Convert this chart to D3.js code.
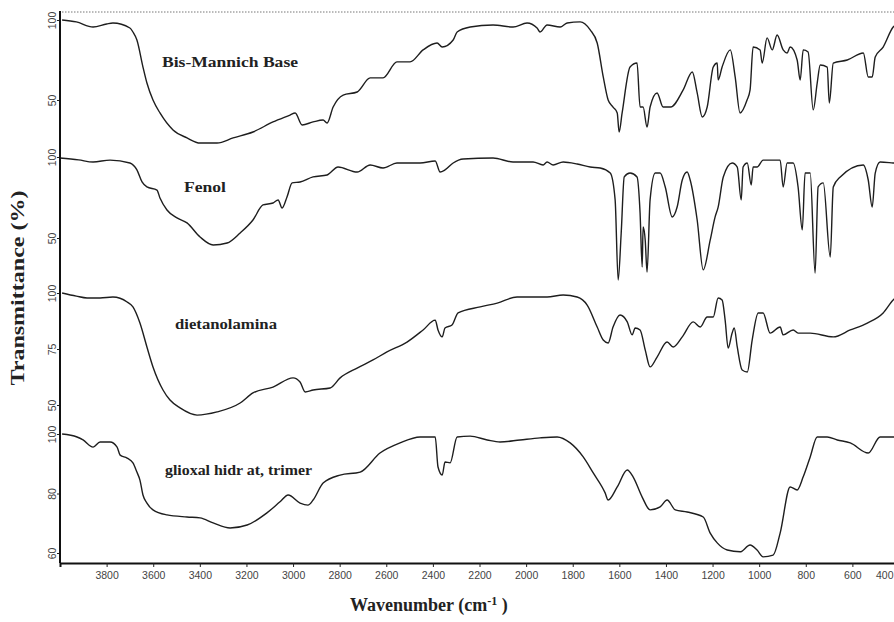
<!DOCTYPE html>
<html>
<head>
<meta charset="utf-8">
<script src="https://cdn.jsdelivr.net/npm/d3@7"></script>
<style>
  html, body { margin: 0; padding: 0; background: #fff; }
  svg { display: block; }
</style>
</head>
<body>
<svg id="chart" width="894" height="622"></svg>
<script>
// ---------- DATA (wavenumber cm-1, transmittance %) ----------
const seriesNames = ["Bis-Mannich Base", "Fenol", "dietanolamina", "glioxal hidr at, trimer"];

const bisMannich = [
  [3991,100],[3930,98.8],[3858,95.6],[3800,97.5],[3773,98.1],[3700,95],[3687,92.5],[3670,87.5],[3644,70.6],[3627,60.6],
  [3601,50],[3571,41.9],[3515,31.3],[3455,26.3],[3399,23.1],[3326,23.1],[3257,26.3],[3172,30],
  [3086,36.3],[3013,40.6],[2991,41.9],[2961,34.4],[2914,36.3],[2871,37.5],[2854,35.6],[2828,45.6],
  [2785,53.1],[2725,55],[2669,63.8],[2614,63.8],[2554,73.8],[2498,73.8],[2442,81.3],[2382,85.6],
  [2360,83.1],[2313,87.5],[2296,92.5],[2240,95.6],[2142,96.9],[2056,95.6],[1996,98.1],[1953,95],
  [1940,92.5],[1910,96.9],[1854,95.6],[1824,98.1],[1768,98.8],[1725,93.8],[1695,85.6],[1669,64.4],
  [1648,50],[1627,45.6],[1609,41.9],[1601,30],[1588,41.9],[1554,70.6],[1524,73.1],[1511,45.6],
  [1498,45.6],[1481,33.1],[1468,45.6],[1438,54.4],[1412,45.6],[1380,45.6],[1326,56.3],[1287,67.5],
  [1266,54.4],[1244,39.4],[1223,45.6],[1197,70.6],[1180,73.1],[1176,62.5],[1159,70.6],[1124,81.3],
  [1103,64.4],[1082,41.9],[1052,50],[1039,56.3],[1026,83.1],[996,81.3],[987,73.1],[966,88.8],
  [944,81.3],[923,90.6],[897,81.3],[880,79.4],[867,83.1],[837,75],[824,62.5],[811,81.3],
  [790,80],[768,43.8],[751,60.6],[738,71.9],[708,70.6],[699,48.1],[682,73.1],[622,75],
  [553,79.4],[532,64.4],[515,64.4],[502,76.9],[468,83.1],[425,95.6],[400,98]
];

const fenol = [
  [4000,99.4],[3920,98.2],[3858,96.9],[3785,98.1],[3700,96.3],[3670,92],[3648,84.6],[3627,81.5],[3584,79.6],
  [3571,74.7],[3541,67.3],[3498,62.4],[3455,59.3],[3399,50.6],[3343,45.7],[3283,46.9],[3227,53.1],
  [3172,61.1],[3129,70.4],[3086,71.6],[3064,73.5],[3047,68.5],[3026,75.3],[3004,84],[2970,84.6],
  [2914,87.7],[2854,88.9],[2807,93.8],[2725,90.7],[2669,95.1],[2614,93.2],[2554,96.3],[2455,96.3],
  [2390,97.5],[2369,90.7],[2348,92],[2313,96.3],[2270,98.8],[2142,99.4],[2056,96.9],[1970,96.9],
  [1927,95.1],[1910,96.9],[1884,95.1],[1841,96.9],[1781,95.7],[1725,93.8],[1682,93.2],[1639,90.1],
  [1618,73.5],[1605,24.1],[1592,53.1],[1579,87.7],[1554,90.1],[1524,87.7],[1511,65.4],[1502,32.1],
  [1498,56.8],[1489,48.8],[1481,29],[1468,73.5],[1446,90.1],[1425,90.1],[1403,81.5],[1373,63],
  [1352,69.1],[1330,85.8],[1309,90.7],[1296,85.8],[1266,61.1],[1240,30.3],[1210,48.8],[1189,63],
  [1176,69.1],[1154,87.7],[1116,96.3],[1094,93.8],[1077,73.5],[1069,93.8],[1051,96.3],[1034,82.7],
  [1026,93.8],[1009,93.8],[983,98.1],[910,98.1],[897,81.5],[880,96.3],[854,96.3],[833,81.5],
  [815,55],[803,90.1],[781,90.1],[760,28.4],[747,81.5],[725,84],[695,38.3],[682,81.5],
  [652,87.7],[553,95.1],[532,85.8],[515,69.1],[502,90.1],[481,96.9],[425,96.3],[400,96]
];

const dietanolamina = [
  [3991,100],[3930,98.6],[3884,97.8],[3828,97.8],[3773,98.2],[3712,96],[3687,93.8],[3657,86.6],[3627,75.9],
  [3601,67],[3558,56.7],[3528,52.2],[3485,48.7],[3412,45.5],[3326,46.9],[3227,50.9],[3172,55.4],
  [3086,58],[3000,62.1],[2970,60.3],[2948,55.8],[2914,56.7],[2841,57.6],[2798,62.1],[2725,66.5],
  [2657,70.1],[2597,73.7],[2511,78.1],[2442,83.5],[2390,87.9],[2378,83.5],[2360,80.4],[2348,84.4],
  [2318,85.7],[2292,91.1],[2197,93.8],[2124,95.5],[2039,98.2],[1970,98.2],[1910,98.2],[1841,99.1],
  [1781,98.2],[1738,94.6],[1695,84.8],[1669,79],[1648,77.7],[1627,84.8],[1597,90.2],[1566,87.1],
  [1545,81.3],[1532,84.4],[1511,83.5],[1489,74.6],[1468,67],[1438,71.4],[1395,78.1],[1369,75.9],
  [1330,80.4],[1283,87.1],[1253,84.8],[1223,89.3],[1197,89.3],[1176,97.8],[1159,96.9],[1146,87.9],
  [1133,75.4],[1116,82.1],[1107,84.4],[1094,75.9],[1073,65.6],[1051,64.7],[1030,79],[1004,91.1],
  [983,91.1],[953,82.1],[910,84.8],[897,81.3],[854,83.5],[833,82.1],[781,82.1],[682,80.4],
  [609,83.5],[536,86.6],[468,91.1],[425,96.9],[400,99]
];

const glioxal = [
  [3991,100],[3927,99],[3901,98],[3858,95.6],[3828,97.3],[3785,97.3],[3755,95.6],[3742,92.9],
  [3712,91.9],[3687,90.3],[3670,87.2],[3657,84.5],[3644,79.5],[3627,76.8],[3601,74.5],[3541,72.8],
  [3455,72.1],[3399,71.8],[3343,70.1],[3270,68.4],[3197,69.4],[3112,73.5],[3056,77.2],[3021,79.5],
  [2970,76.8],[2936,76.1],[2914,77.8],[2871,83.5],[2798,86.2],[2712,87.2],[2627,93.6],[2541,97],
  [2455,99],[2390,99],[2378,88.9],[2360,86.2],[2348,90.6],[2326,90.3],[2296,99],[2240,99.3],
  [2167,98],[2112,97.3],[2026,98],[1940,98.7],[1867,99],[1811,97],[1755,92.3],[1712,86.9],
  [1661,80.2],[1648,77.8],[1609,82.2],[1566,87.9],[1541,85.6],[1502,78.8],[1468,74.5],[1425,75.5],
  [1395,77.8],[1360,74.5],[1309,73.8],[1240,72.1],[1210,66.7],[1180,63.4],[1137,61],[1082,60.4],
  [1039,62.7],[1009,61],[983,58.7],[940,59.3],[910,66.7],[867,82.2],[837,81.2],[811,85.6],
  [781,92.3],[751,99],[708,99],[665,98],[609,97],[532,93.6],[481,99],[425,99],[400,99]
];

const xTickValues = [3800,3600,3400,3200,3000,2800,2600,2400,2200,2000,1800,1600,1400,1200,1000,800,600,400];
const yTicks1 = [100, 50];
const yTicks2 = [100, 50];
const yTicks3 = [100, 75, 50];
const yTicks4 = [100, 80, 60];

// ---------- LAYOUT ----------
const svg = d3.select("#chart");
const plotLeft = 60, plotTop = 11, plotBottom = 563;

const x = d3.scaleLinear().domain([4000, 400]).range([60, 899]);

const panels = [
  { data: bisMannich,    ticks: yTicks1, y: d3.scaleLinear().domain([50,100]).range([100,20]),  label: seriesNames[0], lx: 162, ly: 67,  lw: 136 },
  { data: fenol,         ticks: yTicks2, y: d3.scaleLinear().domain([50,100]).range([238,157]), label: seriesNames[1], lx: 184, ly: 192, lw: 42 },
  { data: dietanolamina, ticks: yTicks3, y: d3.scaleLinear().domain([50,100]).range([405,293]), label: seriesNames[2], lx: 175, ly: 329, lw: 102 },
  { data: glioxal,       ticks: yTicks4, y: d3.scaleLinear().domain([60,100]).range([553,434]), label: seriesNames[3], lx: 165, ly: 475, lw: 147 }
];

const fontSans = "'Liberation Sans', Arial, sans-serif";
const fontSerif = "'Liberation Serif', 'Times New Roman', serif";

// top dotted frame line
svg.append("line")
  .attr("x1", plotLeft + 2).attr("x2", 894)
  .attr("y1", plotTop + 1).attr("y2", plotTop + 1)
  .attr("stroke", "#777").attr("stroke-width", 1)
  .attr("stroke-dasharray", "1.5,1.5");

// spectra
panels.forEach(p => {
  const sorted = p.data.slice().sort((a, b) => a[0] - b[0]);
  const line = d3.line()
    .x(d => x(d[0]))
    .y(d => p.y(d[1]))
    .curve(d3.curveMonotoneX);
  svg.append("path")
    .datum(sorted)
    .attr("fill", "none")
    .attr("stroke", "#1e1e1e")
    .attr("stroke-width", 1.4)
    .attr("stroke-linejoin", "round")
    .attr("d", line);

  // y axis ticks (per panel)
  const ax = d3.axisLeft(p.y).tickValues(p.ticks).tickSize(3).tickFormat(d3.format("d"));
  const g = svg.append("g").attr("transform", `translate(${plotLeft},0)`).call(ax);
  g.select(".domain").remove();
  g.selectAll(".tick line").attr("stroke", "#222").attr("stroke-width", 1);
  g.selectAll(".tick text")
    .attr("x", 0).attr("dy", 0)
    .attr("transform", "translate(-4.5,0) rotate(-90)")
    .attr("text-anchor", "middle")
    .attr("font-family", fontSans)
    .attr("font-size", 10.5)
    .attr("fill", "#444");

  // panel label
  svg.append("text")
    .attr("x", p.lx).attr("y", p.ly)
    .attr("font-family", fontSerif)
    .attr("font-weight", "bold")
    .attr("font-size", 15)
    .attr("fill", "#222")
    .attr("textLength", p.lw)
    .attr("lengthAdjust", "spacingAndGlyphs")
    .text(p.label);
});

// left axis line
svg.append("line")
  .attr("x1", plotLeft).attr("x2", plotLeft)
  .attr("y1", plotTop).attr("y2", plotBottom)
  .attr("stroke", "#111").attr("stroke-width", 2);

// bottom axis
const xAxis = d3.axisBottom(x).tickValues(xTickValues).tickSize(4).tickFormat(d3.format("d"));
const gx = svg.append("g").attr("transform", `translate(0,${plotBottom})`).call(xAxis);
gx.select(".domain").attr("stroke", "#111").attr("stroke-width", 2);
gx.selectAll(".tick line").attr("stroke", "#222");
gx.selectAll(".tick text")
  .attr("y", 9)
  .attr("font-family", fontSans)
  .attr("font-size", 10.5)
  .attr("fill", "#444");
// keep the last label (at the cropped right edge) inside the picture
gx.selectAll(".tick text")
  .filter(d => d === 400)
  .attr("text-anchor", "end")
  .attr("dx", -6);

// axis titles
svg.append("text")
  .attr("transform", "translate(24,288) rotate(-90)")
  .attr("text-anchor", "middle")
  .attr("font-family", fontSerif)
  .attr("font-weight", "bold")
  .attr("font-size", 18)
  .attr("fill", "#222")
  .attr("textLength", 195)
  .attr("lengthAdjust", "spacingAndGlyphs")
  .text("Transmittance (%)");

const xt = svg.append("text")
  .attr("x", 350).attr("y", 611)
  .attr("font-family", fontSerif)
  .attr("font-weight", "bold")
  .attr("font-size", 18)
  .attr("fill", "#222");
xt.append("tspan").text("Wavenumber (cm");
xt.append("tspan").attr("dy", -6).attr("font-size", 12).text("-1");
xt.append("tspan").attr("dy", 6).text(" )");
</script>
</body>
</html>
